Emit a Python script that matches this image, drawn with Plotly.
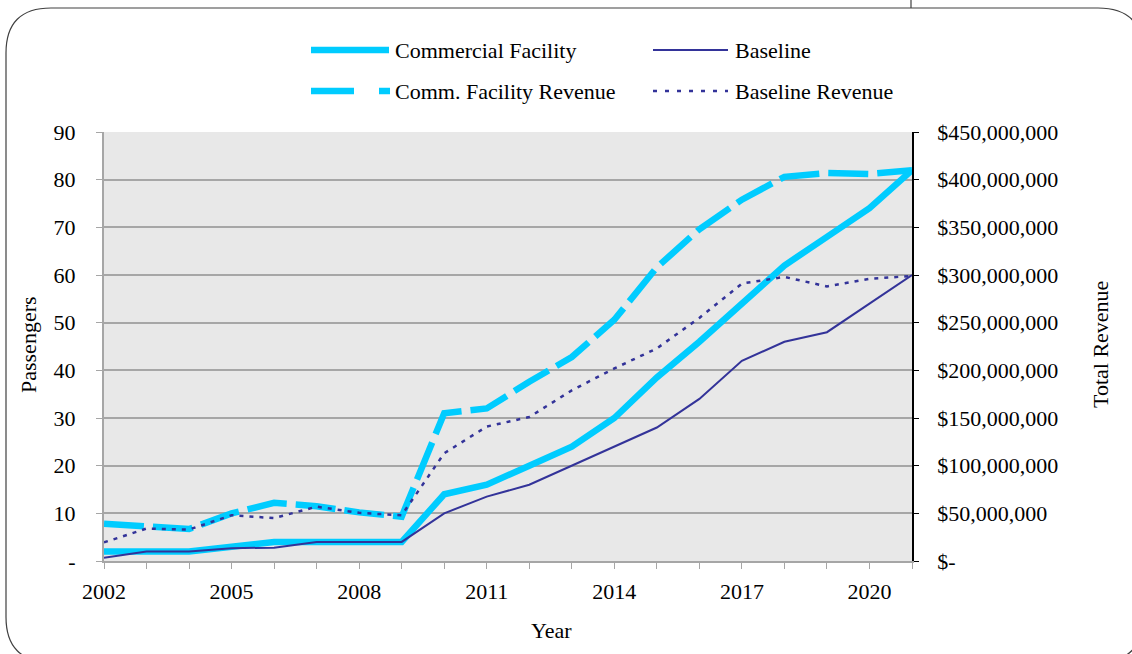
import plotly.graph_objects as go

# ---- data -------------------------------------------------------------
years = list(range(2002, 2022))

commercial_facility = [2, 2, 2, 3, 4, 4, 4, 4, 14, 16, 20, 24, 30, 38.5, 46, 54, 62, 68, 74, 82]
baseline = [0.7, 2, 2, 2.7, 2.8, 4, 4, 4, 10, 13.5, 16, 20, 24, 28, 34, 42, 46, 48, 54, 60]

comm_facility_revenue = [39e6, 36e6, 33.5e6, 50e6, 61e6, 57.5e6, 51e6, 46.5e6, 155e6, 160e6,
                         188e6, 214e6, 253e6, 308e6, 348e6, 379e6, 403e6, 407e6, 406e6, 410e6]
baseline_revenue = [19.5e6, 34e6, 33e6, 48e6, 45e6, 57e6, 50.5e6, 48e6, 113e6, 141e6,
                    151e6, 179e6, 202e6, 223e6, 255e6, 291e6, 298e6, 288e6, 296e6, 299e6]

passenger_ticks = [0, 10, 20, 30, 40, 50, 60, 70, 80, 90]
passenger_labels = ["-", "10", "20", "30", "40", "50", "60", "70", "80", "90"]
revenue_ticks = [0, 50e6, 100e6, 150e6, 200e6, 250e6, 300e6, 350e6, 400e6, 450e6]
revenue_labels = ["$-", "$50,000,000", "$100,000,000", "$150,000,000", "$200,000,000",
                  "$250,000,000", "$300,000,000", "$350,000,000", "$400,000,000", "$450,000,000"]

# ---- styling ----------------------------------------------------------
CYAN = "#00CCFF"
NAVY = "#333399"
GRID = "#A6A6A6"
FONT = "Liberation Serif"
FS = 22

W, H = 1132, 654
L, R, T, B = 104, 912, 132, 561  # plot area in pixels


def px(x):
    return (x - L) / (R - L)


def py(y):
    return (B - y) / (B - T)


fig = go.Figure()

fig.add_trace(go.Scatter(x=years, y=comm_facility_revenue, name="Comm. Facility Revenue",
                         yaxis="y2", mode="lines",
                         line=dict(color=CYAN, width=6.5, dash="40px,9px")))
fig.add_trace(go.Scatter(x=years, y=baseline_revenue, name="Baseline Revenue",
                         yaxis="y2", mode="lines",
                         line=dict(color=NAVY, width=2.5, dash="4px,6px")))
fig.add_trace(go.Scatter(x=years, y=commercial_facility, name="Commercial Facility",
                         mode="lines", line=dict(color=CYAN, width=6.5)))
fig.add_trace(go.Scatter(x=years, y=baseline, name="Baseline",
                         mode="lines", line=dict(color=NAVY, width=2)))

shapes = []
annotations = []

# legend samples
row1, row2 = py(50), py(91)
shapes.append(dict(type="line", xref="paper", yref="paper", x0=px(311), x1=px(389),
                   y0=row1, y1=row1, line=dict(color=CYAN, width=6.5)))
shapes.append(dict(type="line", xref="paper", yref="paper", x0=px(311), x1=px(354),
                   y0=row2, y1=row2, line=dict(color=CYAN, width=6.5)))
shapes.append(dict(type="line", xref="paper", yref="paper", x0=px(379), x1=px(390),
                   y0=row2, y1=row2, line=dict(color=CYAN, width=6.5)))
shapes.append(dict(type="line", xref="paper", yref="paper", x0=px(653), x1=px(728),
                   y0=row1, y1=row1, line=dict(color=NAVY, width=2)))
shapes.append(dict(type="line", xref="paper", yref="paper", x0=px(653), x1=px(728),
                   y0=row2, y1=row2, line=dict(color=NAVY, width=2.5, dash="4px,8px")))

for text, x, y in [("Commercial Facility", 393, row1), ("Comm. Facility Revenue", 393, row2),
                   ("Baseline", 733, row1), ("Baseline Revenue", 733, row2)]:
    annotations.append(dict(text=text, x=px(x), y=y, xref="paper", yref="paper",
                            xanchor="left", yanchor="middle", showarrow=False,
                            font=dict(family=FONT, size=FS, color="black")))

# axis titles
annotations.append(dict(text="Passengers", x=px(28), y=py(345), xref="paper", yref="paper",
                        textangle=-90, showarrow=False, xanchor="center", yanchor="middle",
                        font=dict(family=FONT, size=FS, color="black")))
annotations.append(dict(text="Total Revenue", x=px(1100), y=py(345), xref="paper", yref="paper",
                        textangle=-90, showarrow=False, xanchor="center", yanchor="middle",
                        font=dict(family=FONT, size=FS, color="black")))
annotations.append(dict(text="Year", x=px(551), y=py(630), xref="paper", yref="paper",
                        showarrow=False, xanchor="center", yanchor="middle",
                        font=dict(family=FONT, size=FS, color="black")))

# rounded frame around the chart
fx0, fy0, fx1, fy1, rad = 6, 8, 1143, 662, 45
frame = (f"M {px(fx0 + rad)},{py(fy0)} L {px(fx1 - rad)},{py(fy0)} "
         f"Q {px(fx1)},{py(fy0)} {px(fx1)},{py(fy0 + rad)} "
         f"L {px(fx1)},{py(fy1 - rad)} Q {px(fx1)},{py(fy1)} {px(fx1 - rad)},{py(fy1)} "
         f"L {px(fx0 + rad)},{py(fy1)} Q {px(fx0)},{py(fy1)} {px(fx0)},{py(fy1 - rad)} "
         f"L {px(fx0)},{py(fy0 + rad)} Q {px(fx0)},{py(fy0)} {px(fx0 + rad)},{py(fy0)} Z")
shapes.append(dict(type="path", path=frame, xref="paper", yref="paper",
                   line=dict(color="#404040", width=1.2), layer="below"))
shapes.append(dict(type="line", xref="paper", yref="paper", x0=px(911), x1=px(911),
                   y0=py(0), y1=py(fy0), line=dict(color="#404040", width=1.2)))

fig.update_layout(
    width=W, height=H,
    margin=dict(l=L, r=W - R, t=T, b=H - B, pad=0),
    paper_bgcolor="white",
    plot_bgcolor="#E8E8E8",
    showlegend=False,
    font=dict(family=FONT, size=FS, color="black"),
    shapes=shapes,
    annotations=annotations,
    xaxis=dict(range=[2002, 2021], tickmode="linear", tick0=2002, dtick=3,
               showgrid=False, zeroline=False,
               showline=True, linecolor=GRID, linewidth=2,
               ticks="outside", ticklen=6, tickcolor=GRID, tickwidth=1,
               minor=dict(dtick=1, tick0=2002, ticks="outside", ticklen=6,
                          tickcolor=GRID, tickwidth=1, showgrid=False),
               ticklabelstandoff=4,
               tickfont=dict(family=FONT, size=FS, color="black")),
    yaxis=dict(range=[0, 90], tickvals=passenger_ticks, ticktext=passenger_labels,
               showgrid=True, gridcolor=GRID, gridwidth=1.5, zeroline=False,
               showline=True, linecolor=GRID, linewidth=2,
               ticks="outside", ticklen=6, tickcolor=GRID,
               ticklabelstandoff=16,
               tickfont=dict(family=FONT, size=FS, color="black")),
    yaxis2=dict(range=[0, 450e6], tickvals=revenue_ticks, ticktext=revenue_labels,
                overlaying="y", side="right", showgrid=False, zeroline=False,
                showline=True, linecolor="black", linewidth=1.5,
                ticks="outside", ticklen=5, tickcolor="black",
                ticklabelstandoff=14,
                tickfont=dict(family=FONT, size=FS, color="black")),
)

fig.write_html("out.html")
